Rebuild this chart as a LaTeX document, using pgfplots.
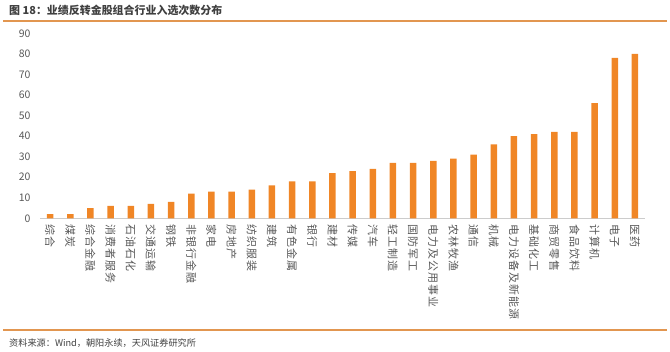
\documentclass[border=0pt]{standalone}
\usepackage{pgfplots}
\pgfplotsset{compat=1.18}
\usepackage{fontspec}
\setmainfont{Noto Sans CJK SC}
\newfontfamily\lblfont[LetterSpace=9]{Noto Sans CJK SC}
\definecolor{barc}{RGB}{240,134,38}
\definecolor{linec}{RGB}{226,150,80}
\definecolor{txt}{RGB}{89,89,89}
\definecolor{ttl}{RGB}{64,64,64}
\begin{document}
\begin{tikzpicture}
\path[use as bounding box] (0bp,0bp) rectangle (670bp,-352bp);
\node[anchor=west,inner sep=0,font=\fontsize{11}{13}\selectfont\bfseries,text=ttl] at (9bp,-10bp) {图 18：业绩反转金股组合行业入选次数分布};
\draw[color=linec,line width=1.2bp] (3bp,-21bp) -- (667bp,-21bp);
\draw[color=linec,line width=1.2bp] (3bp,-330bp) -- (667bp,-330bp);
\node[anchor=west,inner sep=0,font=\fontsize{9.2}{11}\selectfont,text=ttl] at (9bp,-343bp) {资料来源：Wind，朝阳永续，天风证券研究所};
\begin{axis}[at={(40bp,-218.3bp)},anchor=south west,
  width=605bp,height=185bp,scale only axis,
  xmin=-0.5,xmax=29.5,ymin=0,ymax=90,
  ytick={0,10,...,90},
  xtick={0,...,29},
  xticklabels={综合,煤炭,综合金融,消费者服务,石油石化,交通运输,钢铁,非银行金融,家电,房地产,纺织服装,建筑,有色金属,银行,建材,传媒,汽车,轻工制造,国防军工,电力及公用事业,农林牧渔,通信,机械,电力设备及新能源,基础化工,商贸零售,食品饮料,计算机,电子,医药},
  x tick label style={rotate=-90,anchor=west,font=\lblfont\fontsize{11}{12}\selectfont,text=txt,inner sep=0pt},
  xticklabel shift=6bp,
  y tick label style={font=\fontsize{10.5}{12}\selectfont,text=txt},
  yticklabel shift=6bp,
  /pgf/number format/assume math mode=true,
  axis x line*=bottom,
  axis y line*=left,
  y axis line style={draw=none},
  x axis line style={draw=black!20,line width=0.8bp,-},
  tick style={draw=none},
  ]
\addplot[ybar,bar width=6.5bp,fill=barc,draw=none] coordinates {
(0,2)(1,2)(2,5)(3,6)(4,6)(5,7)(6,8)(7,12)(8,13)(9,13)
(10,14)(11,16)(12,18)(13,18)(14,22)(15,23)(16,24)(17,27)(18,27)(19,28)
(20,29)(21,31)(22,36)(23,40)(24,41)(25,42)(26,42)(27,56)(28,78)(29,80)};
\end{axis}
\end{tikzpicture}
\end{document}
